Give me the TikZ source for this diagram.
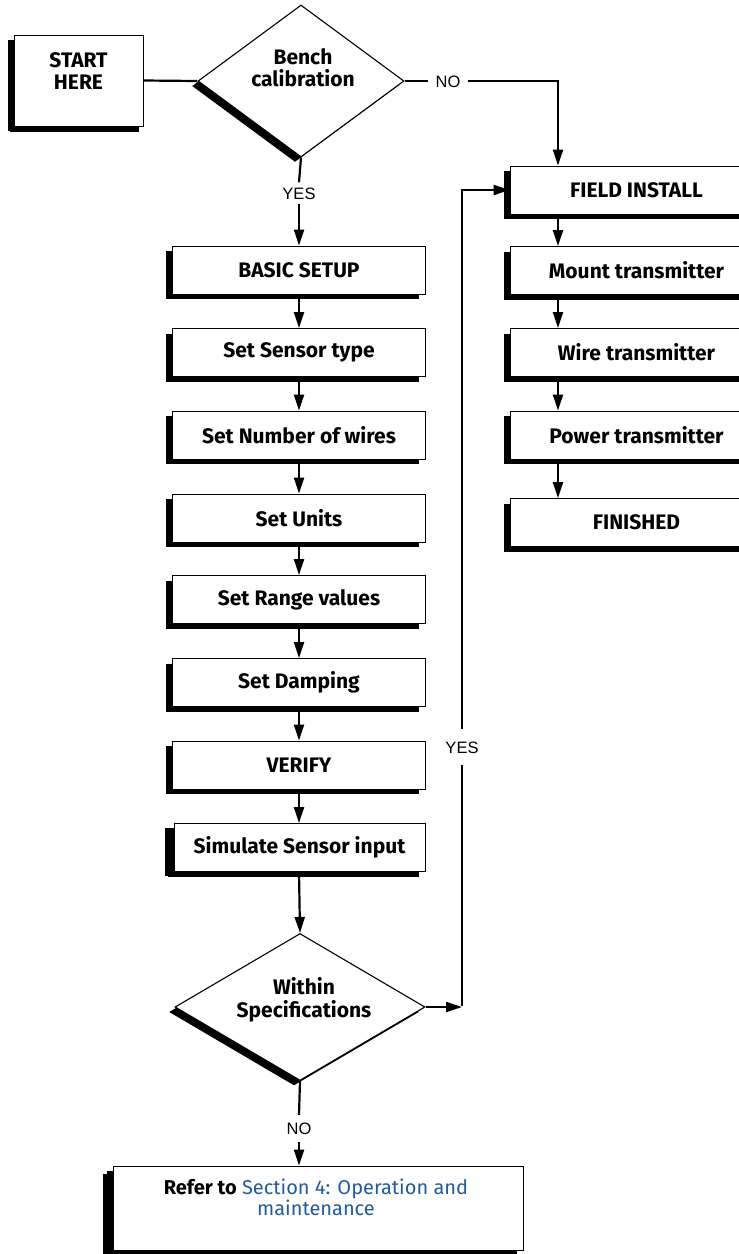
\documentclass[tikz,border=0pt]{standalone}
\usepackage{fontspec}
\setmainfont{Fira Sans}
\newfontfamily\arialfont{Liberation Sans}
\usetikzlibrary{shapes.geometric,shadows,arrows.meta,calc}
\definecolor{linkblue}{RGB}{30,92,160}
\begin{document}
\begin{tikzpicture}[x=1pt,y=-1pt,
  bfont/.style={font=\bfseries\fontsize{21}{21.5}\selectfont},
  box/.style={bfont, draw=black, line width=0.9pt, fill=white, inner sep=0pt,
    minimum width=253pt, minimum height=48pt,
    general shadow={fill=black, shadow xshift=-6.5pt, shadow yshift=-5pt}},
  rbox/.style={box, general shadow={fill=black, shadow xshift=-5pt, shadow yshift=-5pt}},
  dia/.style={diamond, draw=black, line width=1.1pt, fill=white, inner sep=0pt,
    general shadow={fill=black, shadow xshift=-6pt, shadow yshift=-5pt}},
  txt/.style={bfont, align=center, inner sep=0pt},
  lab/.style={font=\arialfont\fontsize{16.5}{18}\selectfont, inner sep=0pt, text height=12pt, text depth=0pt},
  conn/.style={line width=2.2pt},
  arr/.style={conn, -{Triangle[width=10pt,length=16pt]}}
]
\useasboundingbox (0,0) rectangle (739,1254);
\clip (0,0) rectangle (739,1254);

% helper columns
\coordinate (colR) at (558,0);
\coordinate (loopx) at (462,0);

% start and first decision
\node[box, minimum width=129pt, minimum height=91pt,
  general shadow={fill=black, shadow xshift=-4pt, shadow yshift=-6pt}] (start) at (78.5,80.5) {};
\node[txt] (starttxt) at (78.5,71) {START\\HERE};
\node[dia, minimum width=206pt, minimum height=152pt] (bench) at (301,81) {};
\node[txt] (benchtxt) at (303,67.5) {Bench\\calibration};

% left column
\node[box] (basic)    at (299,270)   {BASIC SETUP};
\node[box] (sensor)   at (299,352.5) {Set Sensor type};
\node[box] (wires)    at (299,435)   {Set Number of wires};
\node[box] (units)    at (299,518)   {Set Units};
\node[box] (range)    at (299,599.5) {Set Range values};
\node[box] (damping)  at (299,682.5) {Set Damping};
\node[box] (verify)   at (299,765)   {VERIFY};
\node[box, minimum width=251pt,
  general shadow={fill=black, shadow xshift=-9pt, shadow yshift=-4pt}] (simulate) at (299.5,847.5) {Simulate Sensor input};

\node[dia, minimum width=250pt, minimum height=147pt] (within) at (300,1007) {};
\node[txt, font=\bfseries\fontsize{21}{23}\selectfont] (withintxt) at (304,1000) {Within\\Specifications};

% right column
\node[rbox] (field)    at (636.5,190)   {FIELD INSTALL};
\node[rbox] (mount)    at (636.5,270.5) {Mount transmitter};
\node[rbox] (wire)     at (636.5,352.5) {Wire transmitter};
\node[rbox] (power)    at (636.5,435)   {Power transmitter};
\node[rbox] (finished) at (636.5,522.5) {FINISHED};

% final box
\node[box, minimum width=410pt, minimum height=84pt,
  general shadow={fill=black, shadow xshift=-10pt, shadow yshift=-8pt}] (refer) at (318,1208) {};
\node[align=center, inner sep=0pt, font=\fontsize{20}{21}\selectfont] (refertxt) at (316,1197)
  {\textbf{Refer to} \textcolor{linkblue}{Section 4: Operation and}\\\textcolor{linkblue}{maintenance}};

% labels
\node[lab, inner ysep=4.5pt] (yes1) at (299,193) {YES};
\node[lab, inner xsep=7pt] (no1) at (448,81) {NO};
\node[lab, inner ysep=12pt] (yes2) at (462,747) {YES};
\node[lab, inner ysep=7.5pt] (no2) at (299,1128.5) {NO};

% connectors
\draw[conn] (start.east) -- (bench.west);
\draw[conn] (bench.east) -- (no1.west);
\draw[arr] (no1.east) -| (colR |- field.north);
\draw[conn] (bench.south) -- (yes1.north);
\draw[arr] (yes1.south) -- (basic.north);

\draw[arr] (basic.south) -- (sensor.north);
\draw[arr] (sensor.south) -- (wires.north);
\draw[arr] (wires.south) -- (units.north);
\draw[arr] (units.south) -- (range.north);
\draw[arr] (range.south) -- (damping.north);
\draw[arr] (damping.south) -- (verify.north);
\draw[arr] (verify.south) -- (verify.south |- simulate.north);
\draw[arr] (verify.south |- simulate.south) -- (within.north);

\draw[arr] (within.east) -- (within.east -| loopx);
\draw[conn] ([yshift=1.1pt]within.east -| loopx) -- (yes2.south);
\draw[arr] (yes2.north) |- (field.west);

\draw[conn] (within.south) -- (no2.north);
\draw[arr] (no2.south) -- (no2.south |- refer.north);

\draw[arr] (colR |- field.south) -- (colR |- mount.north);
\draw[arr] (colR |- mount.south) -- (colR |- wire.north);
\draw[arr] (colR |- wire.south) -- (colR |- power.north);
\draw[arr] (colR |- power.south) -- (colR |- finished.north);
\end{tikzpicture}
\end{document}
